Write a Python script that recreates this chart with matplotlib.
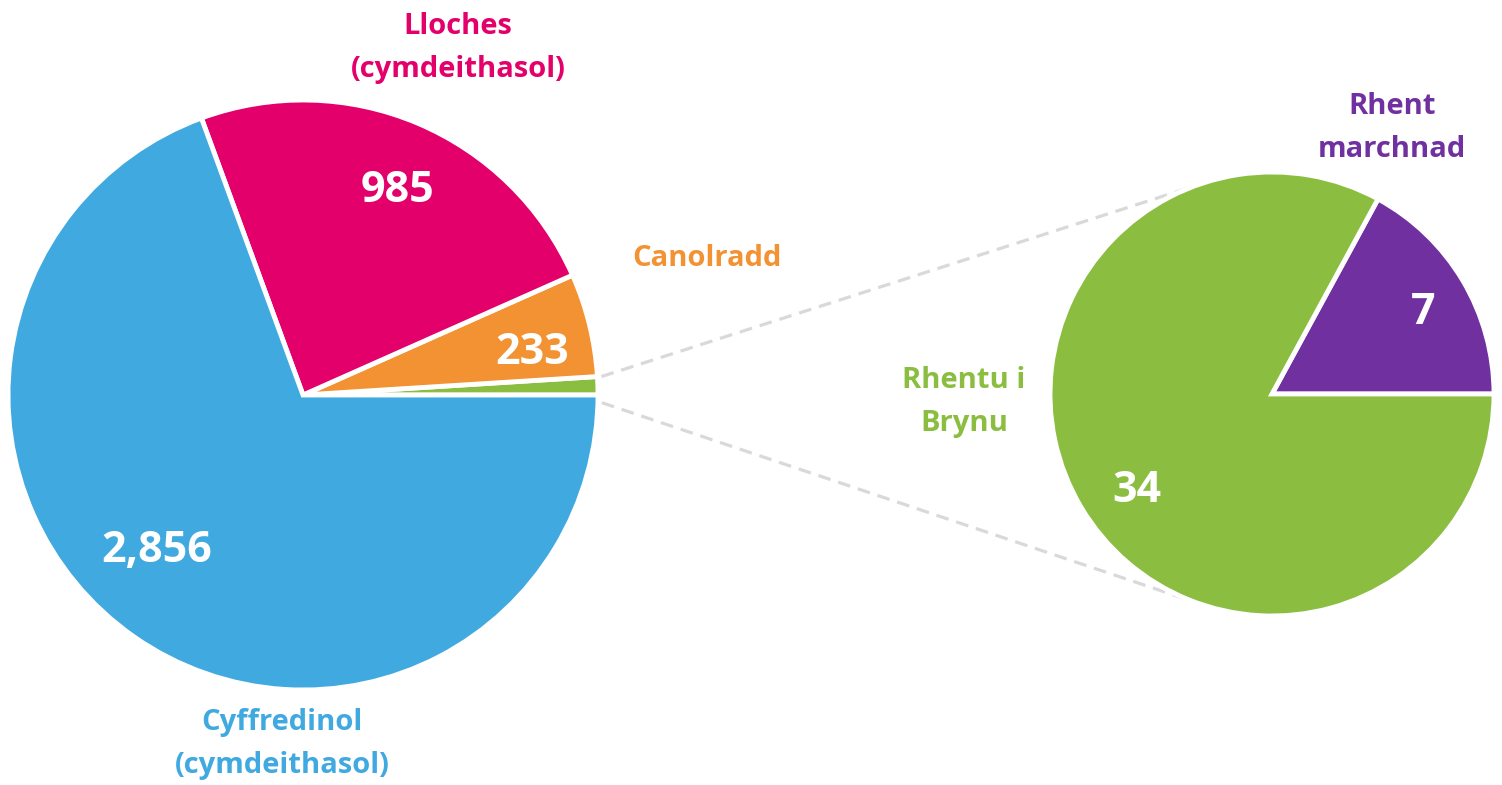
import numpy as np
import matplotlib.pyplot as plt

# data
main_labels = ['Rhentu i Brynu + Rhent marchnad', 'Canolradd', 'Lloches\n(cymdeithasol)', 'Cyffredinol\n(cymdeithasol)']
rent_labels = ['Rhent\nmarchnad', 'Rhentu i\nBrynu']
rent_values = [7, 34]
main_values = [sum(rent_values), 233, 985, 2856]
main_colors = ['#8BBE40', '#F39232', '#E3006A', '#40A9E0']
rent_colors = ['#7030A0', '#8BBE40']

plt.rcParams['font.family'] = ['Open Sans', 'DejaVu Sans']

W, H = 1502, 785
fig = plt.figure(figsize=(W / 100, H / 100), dpi=100)
ax = fig.add_axes([0, 0, 1, 1])

c1, r1 = (303, 390), 295
c2, r2 = (1272, 391), 222

ax.pie(main_values, colors=main_colors, startangle=0, counterclock=True,
       center=c1, radius=r1, wedgeprops=dict(edgecolor='white', linewidth=3.5))
ax.pie(rent_values, colors=rent_colors, startangle=0, counterclock=True,
       center=c2, radius=r2, wedgeprops=dict(edgecolor='white', linewidth=3.5))

# connector lines from small slice to the second pie
ang_small = 360 * main_values[0] / sum(main_values)
for a1, a2 in [(ang_small, 111), (-1.5, 249)]:
    x0 = c1[0] + r1 * np.cos(np.radians(a1))
    y0 = c1[1] + r1 * np.sin(np.radians(a1))
    x1 = c2[0] + r2 * np.cos(np.radians(a2))
    y1 = c2[1] + r2 * np.sin(np.radians(a2))
    ax.plot([x0 + 4, x1], [y0, y1], color='#d9d9d9', lw=2.3, ls=(0, (4, 2.5)), zorder=0)

lab_kw = dict(ha='center', va='center', fontweight='bold', fontsize=21, linespacing=1.65)
ax.text(458, H - 48, main_labels[2], color=main_colors[2], **lab_kw)
ax.text(707, H - 258, main_labels[1], color=main_colors[1], **lab_kw)
ax.text(282, H - 744, main_labels[3], color=main_colors[3], **lab_kw)
ax.text(1392, H - 128, rent_labels[0], color=rent_colors[0], **lab_kw)
ax.text(964, H - 402, rent_labels[1], color=rent_colors[1], **lab_kw)

num_kw = dict(ha='center', va='center', fontweight='bold', fontsize=31, color='white')
ax.text(398, H - 190, f'{main_values[2]:,}', **num_kw)
ax.text(532, H - 353, f'{main_values[1]:,}', **num_kw)
ax.text(157, H - 550, f'{main_values[3]:,}', **num_kw)
ax.text(1137, H - 490, f'{rent_values[1]:,}', **num_kw)
ax.text(1423, H - 313, f'{rent_values[0]:,}', **num_kw)

ax.set_xlim(0, W)
ax.set_ylim(0, H)
ax.set_aspect('equal')
ax.axis('off')

fig.savefig('out.png', dpi=100, facecolor='white')
